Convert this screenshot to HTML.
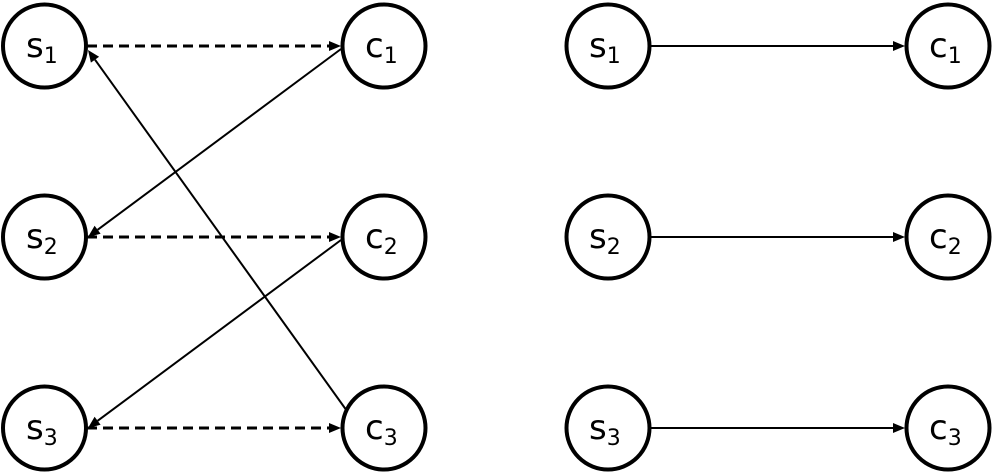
<!DOCTYPE html>
<html><head><style>body{margin:0;background:#fff}svg{display:block}</style></head><body>
<svg width="992" height="474" xmlns="http://www.w3.org/2000/svg" font-family="DejaVu Sans, Liberation Sans, sans-serif">
<g fill="none" stroke="#000" stroke-width="2">
<line x1="87" y1="46" x2="331" y2="46" stroke-width="3" stroke-dasharray="10,6"/>
<line x1="87" y1="237" x2="331" y2="237" stroke-width="3" stroke-dasharray="10,6"/>
<line x1="87" y1="428" x2="331" y2="428" stroke-width="3" stroke-dasharray="10,6"/>
<line x1="352" y1="418" x2="95" y2="59.7"/>
<line x1="341" y1="49" x2="97.6" y2="229.8"/>
<line x1="341" y1="240" x2="97.6" y2="420.8"/>
<line x1="651" y1="46" x2="895" y2="46"/>
<line x1="651" y1="237" x2="895" y2="237"/>
<line x1="651" y1="428" x2="895" y2="428"/>
</g>
<g fill="#000">
<polygon points="341,46 329,41 329,51"/>
<polygon points="341,237 329,232 329,242"/>
<polygon points="341,428 329,423 329,433"/>
<polygon points="905,46 893,41 893,51"/>
<polygon points="905,237 893,232 893,242"/>
<polygon points="905,428 893,423 893,433"/>
<polygon points="88,50 99.1,56.8 90.9,62.6"/>
<polygon points="88,237 100.6,233.8 94.6,225.8"/>
<polygon points="88,428 100.6,424.8 94.6,416.8"/>
</g>
<g fill="#fff" stroke="#000" stroke-width="4">
<circle cx="44.5" cy="46" r="41.5"/><circle cx="384" cy="46" r="41.5"/>
<circle cx="44.5" cy="237" r="41.5"/><circle cx="384" cy="237" r="41.5"/>
<circle cx="44.5" cy="428" r="41.5"/><circle cx="384" cy="428" r="41.5"/>
<circle cx="608" cy="46" r="41.5"/><circle cx="948" cy="46" r="41.5"/>
<circle cx="608" cy="237" r="41.5"/><circle cx="948" cy="237" r="41.5"/>
<circle cx="608" cy="428" r="41.5"/><circle cx="948" cy="428" r="41.5"/>
</g>
<g font-size="34" fill="#000">
<text x="26" y="57">s<tspan font-size="22" dy="6">1</tspan></text>
<text x="365" y="57">c<tspan font-size="22" dy="6">1</tspan></text>
<text x="26" y="248">s<tspan font-size="22" dy="6">2</tspan></text>
<text x="365" y="248">c<tspan font-size="22" dy="6">2</tspan></text>
<text x="26" y="439">s<tspan font-size="22" dy="6">3</tspan></text>
<text x="365" y="439">c<tspan font-size="22" dy="6">3</tspan></text>
<text x="589" y="57">s<tspan font-size="22" dy="6">1</tspan></text>
<text x="929" y="57">c<tspan font-size="22" dy="6">1</tspan></text>
<text x="589" y="248">s<tspan font-size="22" dy="6">2</tspan></text>
<text x="929" y="248">c<tspan font-size="22" dy="6">2</tspan></text>
<text x="589" y="439">s<tspan font-size="22" dy="6">3</tspan></text>
<text x="929" y="439">c<tspan font-size="22" dy="6">3</tspan></text>
</g>
</svg>
</body></html>
